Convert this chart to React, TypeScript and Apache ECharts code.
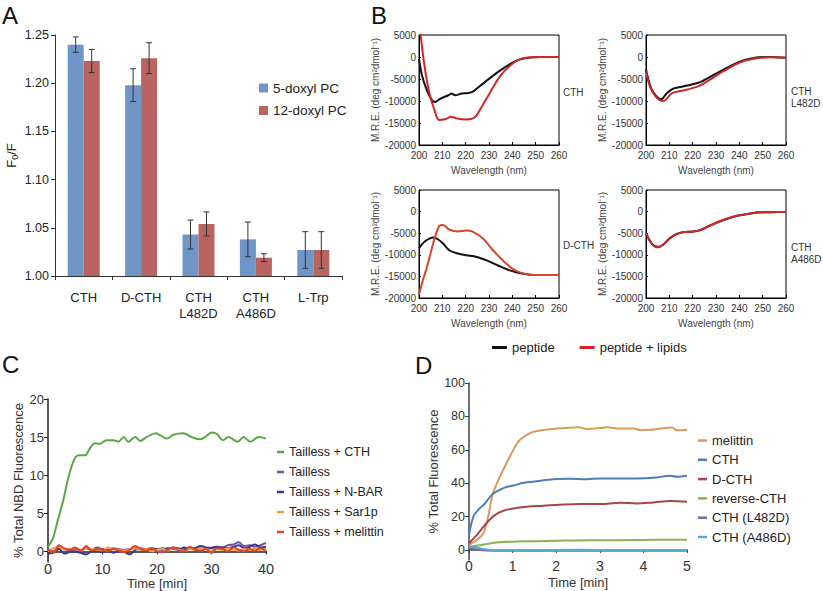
import React, { useEffect, useRef } from 'react';
import * as echarts from 'echarts';

const FONT = '"Liberation Sans", Arial, Helvetica, sans-serif';

// ---------- Panel A ----------
const aCategories = ['CTH', 'D-CTH', 'CTH\nL482D', 'CTH\nA486D', 'L-Trp'];
const doxyl5 = [1.24, 1.198, 1.043, 1.038, 1.027];
const doxyl5Err = [0.008, 0.017, 0.015, 0.018, 0.019];
const doxyl12 = [1.223, 1.226, 1.054, 1.019, 1.027];
const doxyl12Err = [0.012, 0.016, 0.0125, 0.004, 0.019];
const aTicks = [1.0, 1.05, 1.1, 1.15, 1.2, 1.25];

// ---------- Panel B (CD spectra: [wavelength nm, M.R.E.]) ----------
const cthPeptide = [[200, -400], [201.3, -4200], [203.4, -7600], [205.5, -9800], [206.9, -10200], [209, -9500], [212.6, -8700], [214, -8300], [215.4, -8700], [218.3, -8300], [221, -8200], [223.3, -7800], [226.1, -6600], [230.4, -4800], [234.7, -3100], [239, -1600], [242.6, -650], [247.6, -100], [252, 0], [260, 0]];
const cthLipids = [[200, 8000], [200.7, 5000], [202.1, -1100], [204.3, -7900], [206.4, -11700], [208.6, -14300], [211.4, -14100], [213.6, -13600], [216.4, -14000], [220, -14200], [222.9, -14000], [224.6, -13300], [226.7, -11500], [230.4, -8100], [234.7, -4400], [239, -2000], [243.3, -500], [247.6, -100], [252, 0], [260, 0]];
const l482dPeptide = [[200, -2850], [201, -5100], [202.4, -7360], [204.6, -9000], [206.3, -9600], [207.2, -9380], [208.9, -8260], [211.7, -7200], [215.3, -6760], [219.6, -6230], [223.2, -5700], [227.5, -4500], [233.2, -2850], [240.4, -980], [246.1, -225], [253.3, 0], [260, -150]];
const l482dLipids = [[200, -3230], [201.7, -6760], [203.9, -8860], [206.7, -10000], [208.2, -9840], [211, -8260], [214.6, -7730], [219.6, -7130], [223.2, -6460], [227.5, -5100], [233.2, -3230], [240.4, -1200], [246.1, -375], [253.3, -75], [260, -150]];
const dcthPeptide = [[200, -8500], [201.7, -7300], [203.9, -6400], [206, -6000], [208.1, -6400], [210.3, -7400], [213.1, -9000], [216.7, -9700], [220.3, -10100], [224.7, -10500], [229, -11300], [233.2, -12300], [238.9, -13600], [244.6, -14400], [248.9, -14650], [255, -14650], [260, -14650]];
const dcthLipids = [[200, -19200], [201.7, -15800], [203.1, -13400], [204.6, -10400], [206.7, -6200], [208.7, -3300], [210.3, -3100], [213.1, -4200], [216.7, -4600], [220.3, -4400], [223.2, -4700], [227.5, -6300], [231.8, -9000], [236.1, -11400], [240.3, -13300], [244.6, -14300], [248.9, -14650], [255, -14650], [260, -14650]];
const a486dPeptide = [[200, -4900], [201.4, -6500], [203.2, -7800], [205.3, -8150], [207.4, -7600], [210.3, -6100], [213.2, -5150], [216, -4750], [220.3, -4600], [223.2, -4300], [227.5, -3200], [233.2, -1950], [239, -970], [244.7, -450], [247.5, -200], [253.3, -150], [260, -75]];
const a486dLipids = [[200, -4930], [201.4, -6570], [203.2, -7900], [205.3, -8280], [207.4, -7690], [210.3, -6190], [213.2, -5220], [216, -4780], [220.3, -4630], [223.2, -4330], [227.5, -3210], [233.2, -1940], [239, -970], [244.7, -450], [247.5, -220], [253.3, -150], [260, -75]];
const bTickLabels = [-20000, -15000, -10000, -5000, 0, 5000];

// ---------- Panel C (time min, % NBD fluorescence) ----------
const cTailCTH = [[0, 0.6], [0.9, 1.7], [1.8, 4.1], [2.8, 6.7], [3.7, 9.6], [4.5, 11.5], [5.1, 12.4], [5.8, 12.6], [6.8, 12.6], [7.5, 13.3], [8.6, 14.2], [9.5, 14.1], [10.7, 14.6], [12, 14.6], [12.9, 14.4], [13.9, 15.0], [14.7, 14.4], [16, 15.0], [16.9, 14.5], [18.1, 15.0], [19.8, 15.5], [20.9, 15.1], [21.8, 14.8], [23, 15.3], [24.8, 15.5], [26.4, 15.0], [27.9, 14.7], [28.8, 15.0], [30.1, 15.6], [31, 15.4], [32.1, 14.6], [33.1, 15.0], [34.8, 14.4], [35.9, 15.0], [37.1, 14.4], [38.7, 15.0], [40, 14.8]];
const cTimes = [0, 1, 2, 3, 4, 5, 6, 7, 8, 9, 10, 11, 12, 13, 14, 15, 16, 17, 18, 19, 20, 21, 22, 23, 24, 25, 26, 27, 28, 29, 30, 31, 32, 33, 34, 35, 36, 37, 38, 39, 40];
const cTailless = [0.2, 0.0, 0.5, 0.3, 0.1, 0.3, 0.2, 0.4, 0.2, 0.5, 0.3, 0.2, 0.4, 0.3, 0.2, 0.3, 0.5, 0.4, 0.3, 0.4, 0.3, 0.4, 0.3, 0.5, 0.4, 0.3, 0.5, 0.4, 0.5, 0.4, 0.5, 0.6, 0.5, 0.8, 0.9, 1.2, 0.7, 0.8, 0.6, 0.8, 1.1];
const cNBAR = [-0.3, -0.2, 0.3, -0.3, -0.1, 0.0, -0.2, -0.4, 0.0, 0.1, -0.1, 0.1, -0.2, 0.1, -0.1, -0.4, 0.2, 0.3, 0.1, 0.2, 0.3, 0.2, 0.4, 0.3, 0.2, 0.5, 0.3, 0.4, 0.7, 0.5, 0.4, 0.6, 0.5, 0.4, 0.6, 0.8, 0.4, 0.6, 0.9, 0.5, 0.6];
const cSar1p = [0.0, 0.4, 0.6, 0.2, 0.3, 0.4, 0.1, 0.5, 0.3, 0.2, 0.1, 0.5, 0.3, 0.2, 0.1, 0.3, 0.4, 0.2, 0.3, 0.0, 0.2, 0.3, 0.1, 0.4, 0.2, 0.0, 0.3, 0.2, 0.4, 0.3, 0.1, 0.3, 0.2, 0.4, 0.2, 0.1, 0.3, 0.2, 0.4, 0.2, 0.3];
const cMelittin = [0.3, -0.2, 0.8, 0.4, 0.2, 0.5, 0.0, 0.7, 0.1, 0.3, 0.2, 0.0, 0.3, 0.1, -0.1, 0.2, 0.7, 0.3, 0.1, 0.4, 0.0, -0.1, 0.2, 0.5, 0.1, 0.0, 0.6, 0.2, 0.1, 0.3, -0.2, 0.4, 0.3, 0.0, 0.5, 0.2, 0.0, 0.3, 0.1, 0.4, 0.0];
const cYTicks = [0, 5, 10, 15, 20];

// ---------- Panel D (time min, % total fluorescence) ----------
const dMelittin = [[0, 3], [0.18, 6], [0.33, 10], [0.44, 20], [0.54, 33], [0.71, 44], [0.9, 54], [1.06, 62], [1.17, 66], [1.4, 70], [1.63, 71.5], [1.94, 72.5], [2.2, 73], [2.51, 73.5], [2.7, 72.5], [3.01, 73], [3.16, 73.5], [3.47, 72.7], [3.77, 72.7], [3.97, 71.7], [4.16, 72], [4.39, 72.7], [4.66, 73.3], [4.77, 71.7], [5, 72]];
const dCTH = [[0, 9], [0.1, 20], [0.21, 24], [0.37, 28], [0.52, 33], [0.67, 35.5], [0.83, 37.5], [1.02, 38.6], [1.25, 40.2], [1.55, 41.2], [1.94, 42.4], [2.32, 42.6], [2.7, 42.4], [3.01, 42.8], [3.47, 42.8], [3.85, 42.8], [4.23, 43.2], [4.62, 44.4], [4.77, 43.8], [5, 44.4]];
const dDCTH = [[0, 4], [0.21, 10], [0.41, 16.3], [0.6, 21], [0.79, 23.5], [1.02, 24.9], [1.32, 25.9], [1.71, 26.5], [2.09, 27.1], [2.55, 27.5], [3.01, 27.5], [3.47, 28.3], [3.85, 27.9], [4.23, 28.5], [4.62, 29.3], [5, 28.9]];
const dReverse = [[0, 2], [0.25, 2.8], [0.5, 4], [0.75, 4.8], [1, 5], [1.5, 5.3], [2, 5.5], [2.5, 5.7], [3, 5.8], [3.5, 5.9], [4, 6], [4.5, 6.2], [5, 6.2]];
const dL482D = [[0, 1], [0.2, 0.2], [0.4, -0.3], [0.8, -0.5], [1.5, -0.5], [2.5, -0.4], [3.5, -0.5], [4.5, -0.4], [5, -0.5]];
const dA486D = [[0, 2], [0.15, 1.5], [0.4, 0.3], [0.8, 0], [1.5, 0], [2.5, 0.1], [3.5, 0], [4.5, 0], [5, 0]];
const dYTicks = [0, 20, 40, 60, 80, 100];

function buildOption(): any {
  const txt = (size: number, color = '#333') => ({ fontSize: size, color, fontFamily: FONT });

  const errRender = (offset: number) => (params: any, api: any) => {
    const x = api.value(0);
    const y = api.value(1);
    const e = api.value(2);
    const hi = api.coord([x, y + e]);
    const lo = api.coord([x, y - e]);
    const cx = hi[0] + offset;
    const st = { stroke: '#333', lineWidth: 1 };
    return {
      type: 'group',
      children: [
        { type: 'line', shape: { x1: cx, y1: hi[1], x2: cx, y2: lo[1] }, style: st },
        { type: 'line', shape: { x1: cx - 3, y1: hi[1], x2: cx + 3, y2: hi[1] }, style: st },
        { type: 'line', shape: { x1: cx - 3, y1: lo[1], x2: cx + 3, y2: lo[1] }, style: st },
      ],
    };
  };

  const bGrids = [
    { left: 419, top: 35, width: 140, height: 110 },
    { left: 646, top: 35, width: 140, height: 110 },
    { left: 419, top: 190, width: 140, height: 108 },
    { left: 646, top: 190, width: 140, height: 108 },
  ];

  const bX = (gi: number, gap: number) => ({
    type: 'value', gridIndex: gi, min: 200, max: 260, interval: 10,
    axisLine: { show: true, onZero: false, lineStyle: { color: '#000', width: 1 } },
    axisTick: { show: true, inside: true, length: 3, lineStyle: { color: '#000' } },
    axisLabel: { ...txt(10), margin: 5 },
    splitLine: { show: false },
    name: 'Wavelength (nm)', nameLocation: 'middle', nameGap: gap,
    nameTextStyle: txt(10, '#444'),
  });
  const bY = (gi: number) => ({
    type: 'value', gridIndex: gi, min: -20000, max: 5000, interval: 5000,
    axisLine: { show: true, onZero: false, lineStyle: { color: '#000', width: 1 } },
    axisTick: { show: true, inside: true, length: 2, lineStyle: { color: '#000' } },
    axisLabel: { ...txt(10), margin: 3, customValues: bTickLabels, formatter: (v: number) => String(v) },
    splitLine: { show: false },
    name: 'M.R.E. (deg cm²dmol⁻¹)', nameLocation: 'middle', nameGap: 35, nameRotate: 90,
    nameTextStyle: txt(10, '#444'),
  });
  const cdLine = (name: string, data: number[][], color: string, gi: number) => ({
    type: 'line', name, data, xAxisIndex: gi, yAxisIndex: gi,
    showSymbol: false, symbol: 'none', smooth: 0.3,
    lineStyle: { color, width: 2 }, itemStyle: { color },
  });
  const tLine = (name: string, data: number[][], color: string, gi: number) => ({
    type: 'line', name, data, xAxisIndex: gi, yAxisIndex: gi,
    showSymbol: false, symbol: 'none', smooth: 0.35,
    lineStyle: { color, width: 2 }, itemStyle: { color },
  });
  const pairs = (xs: number[], ys: number[]) => xs.map((x, i) => [x, ys[i]]);

  const gridBase = { outerBoundsMode: 'none', containLabel: false, show: false };

  return {
    animation: false,
    backgroundColor: '#fff',
    textStyle: { fontFamily: FONT },
    grid: [
      { ...gridBase, left: 55, top: 35, width: 287, height: 241 },
      ...bGrids.map((g) => ({ ...gridBase, ...g, show: true, borderColor: '#000', borderWidth: 1 })),
      { ...gridBase, left: 48, top: 399, width: 218, height: 163 },
      { ...gridBase, left: 469, top: 383, width: 218, height: 177 },
    ],
    xAxis: [
      {
        type: 'category', gridIndex: 0, data: aCategories,
        axisLine: { show: true, lineStyle: { color: '#333', width: 1 } },
        axisTick: { show: true, length: 4, alignWithLabel: false, interval: 0, lineStyle: { color: '#333' } },
        axisLabel: { ...txt(13, '#222'), interval: 0, lineHeight: 16, margin: 13 },
      },
      bX(1, 20), bX(2, 20), bX(3, 20), bX(4, 20),
      {
        type: 'value', gridIndex: 5, min: 0, max: 40, interval: 10,
        axisLine: { show: true, onZero: true, lineStyle: { color: '#222', width: 1.5 } },
        axisTick: { show: true, length: 3, lineStyle: { color: '#222' } },
        axisLabel: { ...txt(14.5), margin: -1 },
        splitLine: { show: false },
        name: 'Time [min]', nameLocation: 'middle', nameGap: 14.5, nameMoveOverlap: false,
        nameTextStyle: txt(13),
      },
      {
        type: 'value', gridIndex: 6, min: 0, max: 5, interval: 1,
        axisLine: { show: true, onZero: true, lineStyle: { color: '#444', width: 1.5 } },
        axisTick: { show: true, length: 3, lineStyle: { color: '#444' } },
        axisLabel: { ...txt(14), margin: -1.3 },
        splitLine: { show: false },
        name: 'Time [min]', nameLocation: 'middle', nameGap: 16, nameMoveOverlap: false,
        nameTextStyle: txt(13),
      },
    ],
    yAxis: [
      {
        type: 'value', gridIndex: 0, min: 1, max: 1.25, interval: 0.05,
        axisLine: { show: true, lineStyle: { color: '#333', width: 1 } },
        axisTick: { show: true, length: 4, lineStyle: { color: '#333' }, customValues: aTicks },
        axisLabel: { ...txt(12.5, '#222'), margin: 6, customValues: aTicks, formatter: (v: number) => v.toFixed(2) },
        splitLine: { show: false },
        name: '{a|F}{s|0}{a|/F}', nameLocation: 'middle', nameGap: 36, nameRotate: 90,
        nameTextStyle: {
          ...txt(13, '#222'),
          rich: {
            a: { fontSize: 13, lineHeight: 16, color: '#222', fontFamily: FONT },
            s: { fontSize: 9, lineHeight: 9, color: '#222', fontFamily: FONT, verticalAlign: 'bottom' },
          },
        },
      },
      bY(1), bY(2), bY(3), bY(4),
      {
        type: 'value', gridIndex: 5, min: -1.4, max: 20,
        axisLine: { show: true, onZero: false, lineStyle: { color: '#222', width: 1.5 } },
        axisTick: { show: true, length: 4, lineStyle: { color: '#222' }, customValues: cYTicks },
        axisLabel: { ...txt(13), margin: 4, customValues: cYTicks },
        splitLine: { show: false },
        name: '% Total NBD Fluorescence', nameLocation: 'middle', nameGap: 23, nameRotate: 90,
        nameTextStyle: txt(13),
      },
      {
        type: 'value', gridIndex: 6, min: -6, max: 100,
        axisLine: { show: true, onZero: false, lineStyle: { color: '#444', width: 1.5 } },
        axisTick: { show: true, length: 4, lineStyle: { color: '#444' }, customValues: dYTicks },
        axisLabel: { ...txt(12.5), margin: 4, customValues: dYTicks },
        splitLine: { show: false },
        name: '% Total Fluorescence', nameLocation: 'middle', nameGap: 27, nameRotate: 90,
        nameTextStyle: txt(13),
      },
    ],
    legend: [
      {
        data: ['5-doxyl PC', '12-doxyl PC'], orient: 'vertical', left: 254, top: 76,
        icon: 'rect', itemWidth: 9, itemHeight: 9, itemGap: 8.5, selectedMode: false,
        textStyle: txt(13.5, '#222'),
      },
      {
        data: ['peptide', 'peptide + lipids'], orient: 'horizontal', left: 487, top: 336,
        icon: 'rect', itemWidth: 15, itemHeight: 3, itemGap: 25, selectedMode: false,
        textStyle: txt(13, '#222'),
      },
      {
        data: ['Tailless + CTH', 'Tailless', 'Tailless + N-BAR', 'Tailless + Sar1p', 'Tailless + melittin'],
        orient: 'vertical', left: 272, top: 440.5,
        icon: 'rect', itemWidth: 7, itemHeight: 2.5, itemGap: 7, selectedMode: false,
        textStyle: txt(12.5, '#222'),
      },
      {
        data: ['melittin', 'CTH', 'D-CTH', 'reverse-CTH', 'CTH (L482D)', 'CTH (A486D)'],
        orient: 'vertical', left: 693, top: 429,
        icon: 'rect', itemWidth: 9, itemHeight: 2.5, itemGap: 6.3, selectedMode: false,
        textStyle: txt(13, '#222'),
      },
    ],
    graphic: [
      { type: 'text', x: 2, y: 3, style: { text: 'A', fontSize: 24, fontFamily: FONT, fill: '#111' } },
      { type: 'text', x: 371, y: 3, style: { text: 'B', fontSize: 24, fontFamily: FONT, fill: '#111' } },
      { type: 'text', x: 2, y: 352, style: { text: 'C', fontSize: 24, fontFamily: FONT, fill: '#111' } },
      { type: 'text', x: 415, y: 353, style: { text: 'D', fontSize: 24, fontFamily: FONT, fill: '#111' } },
      { type: 'text', x: 563, y: 92, style: { text: 'CTH', fontSize: 10, fontFamily: FONT, fill: '#333', verticalAlign: 'middle' } },
      { type: 'text', x: 791, y: 97.5, style: { text: 'CTH\nL482D', fontSize: 10, lineHeight: 12, fontFamily: FONT, fill: '#333', verticalAlign: 'middle' } },
      { type: 'text', x: 563, y: 245, style: { text: 'D-CTH', fontSize: 10, fontFamily: FONT, fill: '#333', verticalAlign: 'middle' } },
      { type: 'text', x: 791, y: 253, style: { text: 'CTH\nA486D', fontSize: 10, lineHeight: 12, fontFamily: FONT, fill: '#333', verticalAlign: 'middle' } },
    ],
    series: [
      // Panel A
      {
        type: 'bar', name: '5-doxyl PC', data: doxyl5, xAxisIndex: 0, yAxisIndex: 0,
        barWidth: 16, barGap: '0%', itemStyle: { color: '#7096c8' },
      },
      {
        type: 'bar', name: '12-doxyl PC', data: doxyl12, xAxisIndex: 0, yAxisIndex: 0,
        barWidth: 16, barGap: '0%', itemStyle: { color: '#b96460' },
      },
      {
        type: 'custom', name: '5-doxyl err', xAxisIndex: 0, yAxisIndex: 0, z: 5,
        renderItem: errRender(-8), encode: { x: 0, y: 1 },
        data: doxyl5.map((v, i) => [i, v, doxyl5Err[i]]),
      },
      {
        type: 'custom', name: '12-doxyl err', xAxisIndex: 0, yAxisIndex: 0, z: 5,
        renderItem: errRender(8), encode: { x: 0, y: 1 },
        data: doxyl12.map((v, i) => [i, v, doxyl12Err[i]]),
      },
      // Panel B
      cdLine('peptide', cthPeptide, '#111', 1),
      cdLine('peptide + lipids', cthLipids, '#d2262a', 1),
      cdLine('peptide', l482dPeptide, '#111', 2),
      cdLine('peptide + lipids', l482dLipids, '#cc2a2a', 2),
      cdLine('peptide', dcthPeptide, '#111', 3),
      cdLine('peptide + lipids', dcthLipids, '#d4472e', 3),
      cdLine('peptide', a486dPeptide, '#111', 4),
      cdLine('peptide + lipids', a486dLipids, '#c8282a', 4),
      // Panel C
      tLine('Tailless + CTH', cTailCTH, '#5aa646', 5),
      tLine('Tailless', pairs(cTimes, cTailless), '#7d4ea0', 5),
      tLine('Tailless + N-BAR', pairs(cTimes, cNBAR), '#353b96', 5),
      tLine('Tailless + Sar1p', pairs(cTimes, cSar1p), '#f2a23a', 5),
      tLine('Tailless + melittin', pairs(cTimes, cMelittin), '#e0442b', 5),
      // Panel D
      tLine('melittin', dMelittin, '#d99a5a', 6),
      tLine('CTH', dCTH, '#4f7cbd', 6),
      tLine('D-CTH', dDCTH, '#a8464a', 6),
      tLine('reverse-CTH', dReverse, '#8cb254', 6),
      tLine('CTH (L482D)', dL482D, '#7b64a8', 6),
      tLine('CTH (A486D)', dA486D, '#54acd0', 6),
    ],
  };
}

export default function App() {
  const ref = useRef<HTMLDivElement>(null);
  useEffect(() => {
    document.body.style.margin = '0';
    const chart = echarts.init(ref.current as HTMLDivElement, null, { renderer: 'svg' });
    chart.setOption(buildOption());
    return () => chart.dispose();
  }, []);
  return <div ref={ref} style={{ width: 823, height: 591 }} />;
}
